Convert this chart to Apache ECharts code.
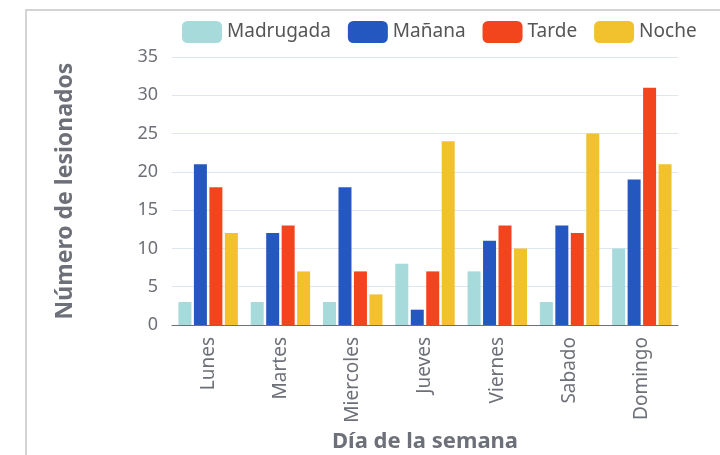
<!DOCTYPE html>
<html>
<head>
<meta charset="utf-8">
<script src="https://cdn.jsdelivr.net/npm/echarts@6/dist/echarts.min.js"></script>
<style>
  html, body { margin: 0; padding: 0; background: #fff; }
  #main { width: 720px; height: 455px; }
</style>
</head>
<body>
<div id="main"></div>
<script>
// datos
var dias = ['Lunes', 'Martes', 'Miercoles', 'Jueves', 'Viernes', 'Sabado', 'Domingo'];
var madrugada = [3, 3, 3, 8, 7, 3, 10];
var manana = [21, 12, 18, 2, 11, 13, 19];
var tarde = [18, 13, 7, 7, 13, 12, 31];
var noche = [12, 7, 4, 24, 10, 25, 21];

var fuente = '"Noto Sans", sans-serif';
var gris = '#6E7079';

var myChart = echarts.init(document.getElementById('main'));

function serie(nombre, datos) {
  return {
    name: nombre,
    type: 'bar',
    data: datos,
    barWidth: 13,
    barGap: '19%'
  };
}

var option = {
  color: ['#A6DADB', '#2458C0', '#F2441D', '#F2C12E'],
  textStyle: { fontFamily: fuente },
  graphic: [{
    type: 'rect',
    shape: { x: 26, y: 10, width: 760, height: 500 },
    style: { fill: 'none', stroke: '#d4d4d4', lineWidth: 2 },
    silent: true
  }],
  legend: {
    top: 16,
    left: 177,
    itemWidth: 40,
    itemHeight: 22,
    itemGap: 17,
    textStyle: { fontSize: 19, color: '#555', fontFamily: fuente }
  },
  grid: { left: 172, right: 42, top: 57, bottom: 130, outerBoundsMode: 'none' },
  xAxis: {
    type: 'category',
    data: dias,
    name: 'Día de la semana',
    nameLocation: 'middle',
    nameGap: 106,
    nameTextStyle: { fontSize: 22, fontWeight: 'bold', color: gris, fontFamily: fuente },
    axisLine: { lineStyle: { color: gris } },
    axisTick: { length: 6 },
    axisLabel: { rotate: 90, fontSize: 19, color: gris, margin: 12, fontFamily: fuente }
  },
  yAxis: {
    type: 'value',
    min: 0,
    max: 35,
    interval: 5,
    name: 'Número de lesionados',
    nameLocation: 'middle',
    nameGap: 95,
    nameTextStyle: { fontSize: 23, fontWeight: 'bold', color: gris, fontFamily: fuente },
    axisLabel: { fontSize: 18, color: gris, margin: 14, fontFamily: fuente },
    splitLine: { lineStyle: { color: '#E0E6F1' } }
  },
  series: [
    serie('Madrugada', madrugada),
    serie('Mañana', manana),
    serie('Tarde', tarde),
    serie('Noche', noche)
  ]
};

myChart.setOption(option);
</script>
</body>
</html>
